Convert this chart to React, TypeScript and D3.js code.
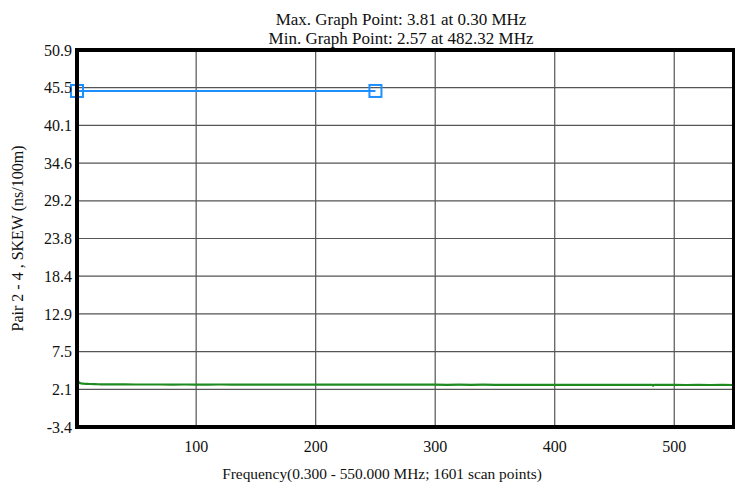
import React from "react";
import * as d3 from "d3";

const yTickValues = [50.9, 45.47, 40.04, 34.61, 29.18, 23.75, 18.32, 12.89, 7.46, 2.03, -3.4];
const yTickLabels = ["50.9", "45.5", "40.1", "34.6", "29.2", "23.8", "18.4", "12.9", "7.5", "2.1", "-3.4"];
const xTickValues = [100, 200, 300, 400, 500];
const xTickLabels = ["100", "200", "300", "400", "500"];

const skewFreq = [
  0.3, 0.6, 1, 1.5, 2, 3, 4, 5, 6, 8, 10, 12, 15, 18, 20, 25, 30, 40, 50, 60, 70, 80, 90, 100,
  110, 120, 130, 140, 150, 160, 170, 180, 190, 200, 210, 220, 230, 240, 250, 260, 270, 280,
  290, 300, 310, 320, 330, 340, 350, 360, 370, 380, 390, 400, 410, 420, 430, 440, 450, 460,
  470, 481.5, 482.32, 483, 490, 500, 510, 520, 530, 540, 550,
];
const skewValues = [
  3.81, 3.55, 3.3, 3.1, 3.0, 2.92, 2.88, 2.86, 2.84, 2.82, 2.8, 2.79, 2.77, 2.76, 2.75, 2.74,
  2.73, 2.73, 2.72, 2.72, 2.72, 2.71, 2.72, 2.71, 2.71, 2.72, 2.71, 2.7, 2.71, 2.7, 2.71, 2.7,
  2.7, 2.71, 2.7, 2.69, 2.7, 2.7, 2.69, 2.7, 2.69, 2.69, 2.7, 2.69, 2.68, 2.69, 2.68, 2.69,
  2.68, 2.68, 2.67, 2.68, 2.68, 2.67, 2.68, 2.67, 2.66, 2.67, 2.66, 2.67, 2.66, 2.66, 2.57,
  2.66, 2.66, 2.66, 2.65, 2.66, 2.65, 2.66, 2.65,
];

const markerFreq = [0.3, 250];
const markerValues = [45.0, 45.0];

const titleLines = [
  "Max. Graph Point: 3.81 at 0.30 MHz",
  "Min. Graph Point: 2.57 at 482.32 MHz",
];
const xTitle = "Frequency(0.300 - 550.000 MHz; 1601 scan points)";
const yTitle = "Pair 2 - 4 , SKEW (ns/100m)";

const W = 735;
const H = 484;
const left = 77;
const right = 734;
const top = 50;
const bottom = 427;
const FONT = "'Liberation Serif', 'Times New Roman', serif";
const tickStyle = { fontFamily: FONT, fontSize: "16px" };
const titleStyle = { fontFamily: FONT, fontSize: "17px" };
const axisTitleStyle = { fontFamily: FONT, fontSize: "15.4px" };

export default function App() {
  const x = d3.scaleLinear().domain([0.3, 550]).range([left, right]);
  const y = d3.scaleLinear().domain([-3.4, 50.9]).range([bottom, top]);

  const skewData = skewFreq.map((f, i) => [f, skewValues[i]] as [number, number]);
  const markerData = markerFreq.map((f, i) => [f, markerValues[i]] as [number, number]);
  const line = d3
    .line<[number, number]>()
    .x((d) => x(d[0]))
    .y((d) => y(d[1]));

  return (
    <svg
      width={W}
      height={H}
      style={{ position: "absolute", left: 0, top: 0, background: "#fff" }}
    >
      <rect x={0} y={0} width={W} height={H} fill="#fff" />
      {yTickValues.map((v, i) => (
        <line key={"gy" + i} x1={left} x2={right} y1={y(v)} y2={y(v)} stroke="#555" strokeWidth={1.2} />
      ))}
      {xTickValues.map((v, i) => (
        <line key={"gx" + i} x1={x(v)} x2={x(v)} y1={top} y2={bottom} stroke="#555" strokeWidth={1.2} />
      ))}
      <path d={line(skewData) || ""} fill="none" stroke="#1f8a1f" strokeWidth={2.2} />
      <path d={line(markerData) || ""} fill="none" stroke="#1e8fff" strokeWidth={2} />
      {markerData.map((d, i) => (
        <rect
          key={"m" + i}
          x={x(d[0]) - 6}
          y={y(d[1]) - 6}
          width={12}
          height={12}
          fill="none"
          stroke="#1e8fff"
          strokeWidth={2}
        />
      ))}
      <rect x={left} y={top} width={right - left} height={bottom - top} fill="none" stroke="#000" strokeWidth={4} />
      {yTickValues.map((v, i) => (
        <text key={"yl" + i} x={72} y={y(v)} dy="0.35em" textAnchor="end" style={tickStyle} fill="#111">
          {yTickLabels[i]}
        </text>
      ))}
      {xTickValues.map((v, i) => (
        <text key={"xl" + i} x={x(v)} y={452} textAnchor="middle" style={tickStyle} fill="#111">
          {xTickLabels[i]}
        </text>
      ))}
      {titleLines.map((t, i) => (
        <text key={"t" + i} x={401} y={25 + i * 19} textAnchor="middle" style={titleStyle} fill="#111">
          {t}
        </text>
      ))}
      <text x={382} y={479} textAnchor="middle" style={axisTitleStyle} fill="#111">
        {xTitle}
      </text>
      <text
        transform={`translate(23, ${(top + bottom) / 2}) rotate(-90)`}
        textAnchor="middle"
        style={tickStyle}
        fill="#111"
      >
        {yTitle}
      </text>
    </svg>
  );
}
